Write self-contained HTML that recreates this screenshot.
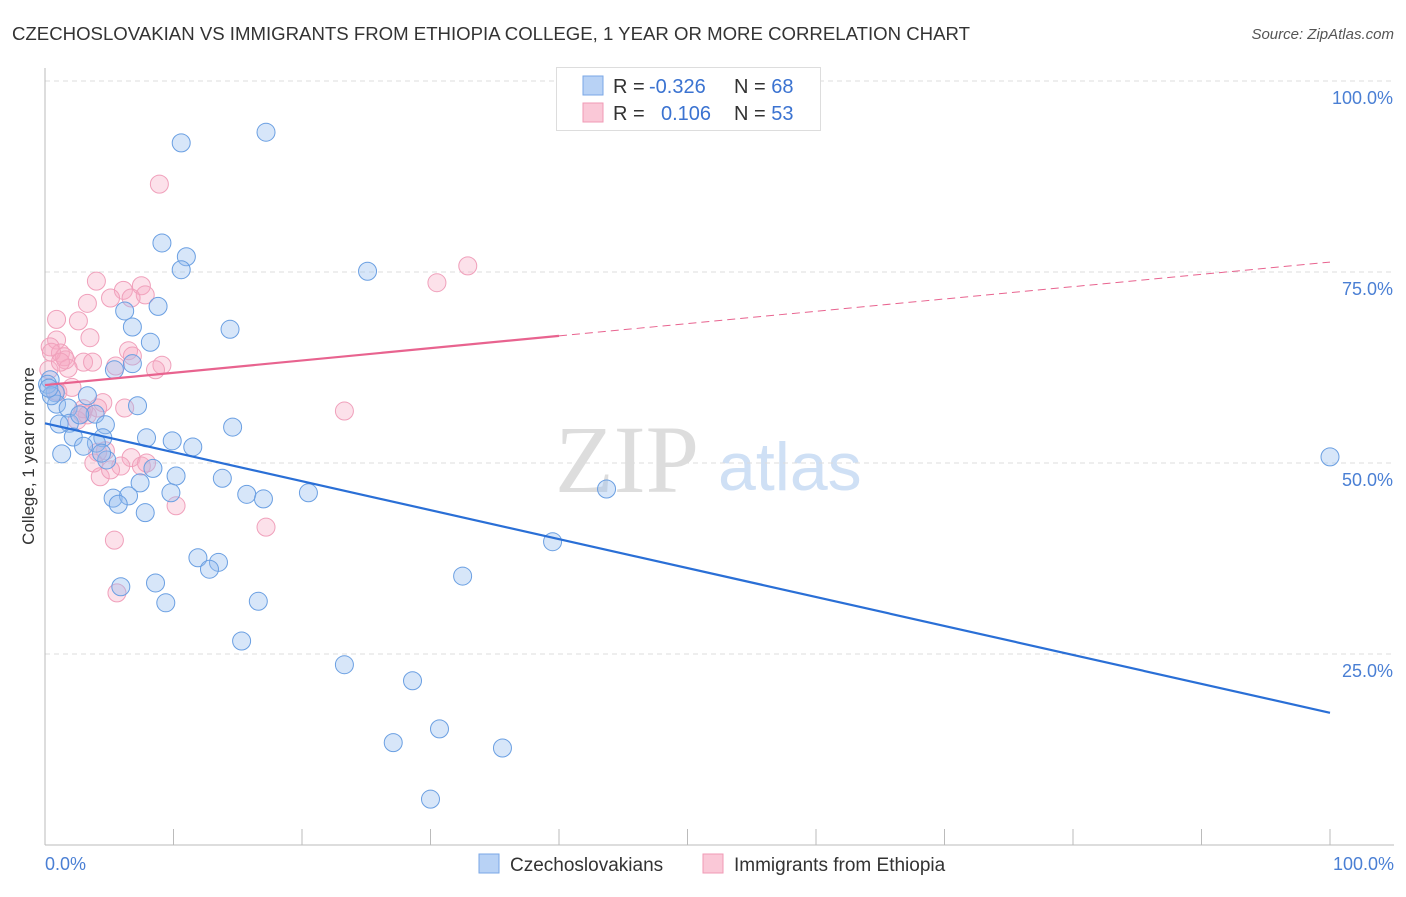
<!DOCTYPE html>
<html><head><meta charset="utf-8"><style>
body{margin:0;background:#fff;font-family:"Liberation Sans",sans-serif;}
svg text{font-family:"Liberation Sans",sans-serif;}
</style></head><body>
<svg id="c" width="1406" height="892" xmlns="http://www.w3.org/2000/svg">
<text x="12" y="40" font-size="18" fill="#333" textLength="958" lengthAdjust="spacingAndGlyphs">CZECHOSLOVAKIAN VS IMMIGRANTS FROM ETHIOPIA COLLEGE, 1 YEAR OR MORE CORRELATION CHART</text>
<text x="1394" y="39" font-size="15" fill="#555" font-style="italic" text-anchor="end">Source: ZipAtlas.com</text>
<text x="555" y="492" font-size="96" fill="#ddd" style="font-family:'Liberation Serif',serif">ZIP</text>
<text x="718" y="490" font-size="68" fill="#cfe0f5">atlas</text>
<g id="grid"></g>
<line x1="45" y1="68" x2="45" y2="845" stroke="#bbb"/>
<line x1="45" y1="845" x2="1394" y2="845" stroke="#bbb"/>
<g id="xt"></g>
<text x="34" y="456" font-size="17" fill="#333" text-anchor="middle" transform="rotate(-90 34 456)">College, 1 year or more</text>
<text x="45" y="870" font-size="18" fill="#4a7fd4">0.0%</text>
<text x="1394" y="870" font-size="18" fill="#4a7fd4" text-anchor="end">100.0%</text>
<g id="pts"></g>
<g id="lines"></g>
<g>
<rect x="556.5" y="67.5" width="264" height="63" fill="#fff" stroke="#ddd"/>
<rect x="583" y="76" width="20" height="19" fill="#b8d2f5" stroke="#7aa7e6"/>
<rect x="583" y="103" width="20" height="19" fill="#fac8d7" stroke="#f09ab5"/>
<text x="613" y="93" font-size="20" fill="#333">R = <tspan fill="#3b73d1" x="649">-0.326</tspan></text>
<text x="734" y="93" font-size="20" fill="#333">N = <tspan fill="#3b73d1">68</tspan></text>
<text x="613" y="120" font-size="20" fill="#333">R = <tspan fill="#3b73d1" x="661">0.106</tspan></text>
<text x="734" y="120" font-size="20" fill="#333">N = <tspan fill="#3b73d1">53</tspan></text>
</g>
<g>
<rect x="479" y="854" width="20" height="19" fill="#b8d2f5" stroke="#7aa7e6"/>
<text x="510" y="871" font-size="19" fill="#333">Czechoslovakians</text>
<rect x="703" y="854" width="20" height="19" fill="#fac8d7" stroke="#f09ab5"/>
<text x="734" y="871" font-size="19" fill="#333">Immigrants from Ethiopia</text>
</g>
</svg>
<script>
const yTicks=[100,75,50,25];
const yTickLabels=["100.0%","75.0%","50.0%","25.0%"];
const xTicks=[0,10,20,30,40,50,60,70,80,90,100];
const blueX=[17.2,10.6,9.1,11.0,10.6,25.1,8.8,14.4,6.8,6.2,8.2,5.4,6.8,0.4,0.8,3.3,7.2,0.9,1.8,1.9,3.9,2.7,1.1,4.7,14.6,7.9,9.9,4.5,4.0,2.2,3.0,11.5,1.3,8.4,4.8,4.4,10.2,13.8,7.4,9.8,15.7,17.0,20.5,43.7,5.3,6.5,5.7,7.8,39.5,11.9,13.5,12.8,32.5,8.6,5.9,9.4,16.6,15.3,23.3,28.6,27.1,30.7,35.6,30.0,100,0.2,0.5,0.3];
const blueY=[93.3,91.9,78.8,77.0,75.3,75.1,70.5,67.5,67.8,69.9,65.8,62.2,63.0,60.9,59.2,58.8,57.5,57.7,57.2,55.2,56.4,56.3,55.1,55.0,54.7,53.3,52.9,53.3,52.6,53.4,52.2,52.1,51.2,49.3,50.4,51.3,48.3,48.0,47.4,46.1,45.9,45.3,46.1,46.6,45.4,45.7,44.6,43.5,39.7,37.6,37.0,36.1,35.2,34.3,33.8,31.7,31.9,26.7,23.6,21.5,13.4,15.2,12.7,6.0,50.8,60.3,58.8,59.8];
const pinkX=[8.9,32.9,30.5,4.0,7.5,6.1,7.8,6.7,5.1,3.3,0.9,2.6,3.5,0.9,0.4,1.2,1.6,1.5,3.0,3.7,6.5,6.8,5.5,9.1,8.6,1.8,2.1,0.8,4.5,4.1,6.2,2.9,3.3,23.3,2.5,4.7,6.7,3.8,5.9,7.5,7.9,4.3,10.2,17.2,5.4,5.6,0.3,0.5,1.2,3.0,4.1,1.0,5.1];
const pinkY=[86.5,75.8,73.6,73.8,73.2,72.6,72.0,71.6,71.6,70.9,68.8,68.6,66.4,66.1,65.2,64.4,63.5,63.9,63.2,63.2,64.7,64.0,62.7,62.8,62.2,62.4,59.9,59.4,57.9,57.2,57.2,56.5,56.3,56.8,55.6,51.6,50.7,50.0,49.6,49.6,50.0,48.2,44.4,41.6,39.9,33.0,62.2,64.5,63.2,57.1,51.4,59.3,49.1];
const blueTrend=[55.2,17.3];
const pinkTrend=[60.2,76.3];
const pinkSolidEnd=40;
const NS="http://www.w3.org/2000/svg";
const sx=v=>45+v*12.85, sy=v=>845-v*7.64;
function mk(tag,attrs,parent){const e=document.createElementNS(NS,tag);for(const k in attrs)e.setAttribute(k,attrs[k]);parent.appendChild(e);return e;}
const grid=document.getElementById('grid');
yTicks.forEach((t,i)=>{
 const l=mk('line',{x1:45,x2:1394,y1:sy(t),y2:sy(t),stroke:'#ddd','stroke-dasharray':'5,4'},grid);
 
 
 const tx=mk('text',{x:1393,y:sy(t)+23,'font-size':18,fill:'#4a7fd4','text-anchor':'end'},grid);
 tx.textContent=yTickLabels[i];
 
 
});
const xt=document.getElementById('xt');
xTicks.forEach(t=>{
 const l=mk('line',{x1:sx(t),x2:sx(t),y1:829,y2:845,stroke:'#bbb'},xt);
 
 
});
const pts=document.getElementById('pts');
pinkX.forEach((x,i)=>{
 const c=mk('circle',{cx:sx(x),cy:sy(pinkY[i]),r:9,fill:'rgba(246,170,196,0.35)',stroke:'#f0a0bb','stroke-width':1},pts);
 
 
});
blueX.forEach((x,i)=>{
 const c=mk('circle',{cx:sx(x),cy:sy(blueY[i]),r:9,fill:'rgba(150,190,240,0.38)',stroke:'#6a9fe2','stroke-width':1},pts);
 
 
});
const lines=document.getElementById('lines');
const bl=mk('line',{x1:sx(0),y1:sy(blueTrend[0]),x2:sx(100),y2:sy(blueTrend[1]),stroke:'#2a6fd6','stroke-width':2.2},lines);


const pm=pinkTrend[0]+(pinkTrend[1]-pinkTrend[0])*pinkSolidEnd/100;
const pl=mk('line',{x1:sx(0),y1:sy(pinkTrend[0]),x2:sx(pinkSolidEnd),y2:sy(pm),stroke:'#e8638f','stroke-width':2.2},lines);


const pd=mk('line',{x1:sx(pinkSolidEnd),y1:sy(pm),x2:sx(100),y2:sy(pinkTrend[1]),stroke:'#e8638f','stroke-width':1,'stroke-dasharray':'8,5'},lines);


</script>
</body></html>
